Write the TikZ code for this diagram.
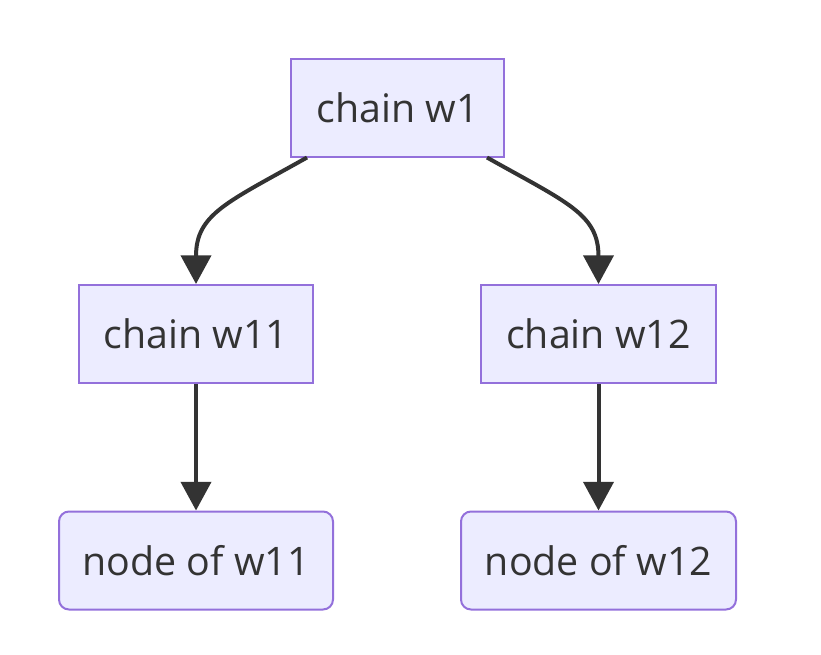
\documentclass[tikz,border=0pt]{standalone}
\usepackage{fontspec}
\setmainfont{Open Sans}
\usetikzlibrary{arrows.meta,calc}
\definecolor{boxfill}{HTML}{ECECFF}
\definecolor{boxline}{HTML}{9370DB}
\definecolor{linkcol}{HTML}{333333}
\tikzset{
	chainbox/.style={draw=boxline, fill=boxfill, line width=1.5pt, minimum height=73.5pt, inner sep=0pt, text=linkcol, font=\fontsize{29.5}{35}\selectfont},
	leafbox/.style={chainbox, rounded corners=7.5pt},
	link/.style={draw=linkcol, line width=3pt, -{Triangle[length=21.5pt,width=22.5pt]}}
}
\begin{document}
\begin{tikzpicture}[x=0.75pt,y=0.75pt,yscale=-1,xscale=1]
	\useasboundingbox (0,0) rectangle (821,654);
	
	% Chains
	\node [chainbox, minimum width=159.75pt] (w1) at (397.5,107.5) {chain w1};
	\node [chainbox, minimum width=175.5pt] (w11) at (196,334) {chain w11};
	\node [chainbox, minimum width=176.25pt] (w12) at (598.5,334) {chain w12};
	% Leaf nodes
	\node [leafbox, minimum width=205.5pt] (n11) at (196,560.5) {node of w11};
	\node [leafbox, minimum width=206.25pt] (n12) at (598.5,560.5) {node of w12};
	
	% Links
	\draw [link] ($(w1.south west)+(17,0)$) .. controls +(-80,45) and +(0,-70) .. (w11.north);
	\draw [link] ($(w1.south east)+(-18,0)$) .. controls +(80,45) and +(0,-70) .. (w12.north);
	\draw [link] (w11.south) -- (n11.north);
	\draw [link] (w12.south) -- (n12.north);
	
\end{tikzpicture}
\end{document}
